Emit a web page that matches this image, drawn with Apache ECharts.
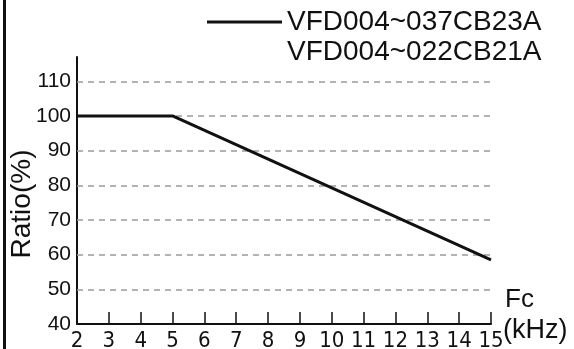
<!DOCTYPE html>
<html>
<head>
<meta charset="utf-8">
<script src="https://cdn.jsdelivr.net/npm/echarts@6/dist/echarts.min.js"></script>
<style>
  html, body { margin: 0; padding: 0; background: #fff; }
  #box { width: 574px; height: 349px; }
</style>
</head>
<body>
<div id="box"></div>
<script>
  // derating curve: carrier frequency (kHz) vs output ratio (%)
  const fcValues = [2, 5, 15];
  const ratioValues = [100, 100, 58.5];
  const gridValues = [50, 60, 70, 80, 90, 100, 110];
  const seriesNames = ['VFD004~037CB23A', 'VFD004~022CB21A'];

  const chart = echarts.init(document.getElementById('box'));

  const mainFont = '"Liberation Sans", Arial, sans-serif';
  const narrowFont = '"Liberation Sans Narrow", "DejaVu Sans Condensed", "Liberation Sans", sans-serif';

  chart.setOption({
    animation: false,
    grid: { left: 77, right: 83, top: 57, bottom: 25, outerBoundsMode: 'none', containLabel: false },
    legend: {
      data: [seriesNames[0]],
      left: 207,
      top: 8,
      padding: 0,
      icon: 'rect',
      itemWidth: 75,
      itemHeight: 3,
      textStyle: { fontFamily: mainFont, fontSize: 28, color: '#111', padding: [0, 0, 0, 0] },
    },
    xAxis: {
      type: 'value',
      min: 2,
      max: 15,
      interval: 1,
      axisLine: { lineStyle: { color: '#111', width: 2 } },
      axisTick: { show: true, inside: true, length: 12, lineStyle: { color: '#111', width: 1.5 } },
      axisLabel: { fontFamily: narrowFont, fontSize: 22, color: '#111', margin: 6 },
      splitLine: { show: false },
    },
    yAxis: {
      type: 'value',
      min: 40,
      max: 117,
      interval: 10,
      axisLine: { show: true, lineStyle: { color: '#111', width: 2 } },
      axisTick: { show: false },
      axisLabel: { fontFamily: mainFont, fontSize: 21, color: '#111', margin: 6, showMaxLabel: false },
      splitLine: { show: false },
    },
    series: [
      {
        name: seriesNames[0],
        type: 'line',
        data: fcValues.map((v, i) => [v, ratioValues[i]]),
        symbol: 'none',
        lineStyle: { color: '#111', width: 3 },
        itemStyle: { color: '#111' },
        z: 3,
        markLine: {
          silent: true,
          symbol: 'none',
          label: { show: false },
          lineStyle: { color: '#9a9a9a', width: 1.5, type: [6, 5] },
          data: gridValues.map((v) => ({ yAxis: v })),
          z: 1,
        },
      },
    ],
    graphic: [
      { type: 'rect', left: 3, top: 0, shape: { width: 3, height: 349 }, style: { fill: '#111' } },
      {
        type: 'text', x: 287, y: 52,
        style: { text: seriesNames[1], fontFamily: mainFont, fontSize: 28, fill: '#111', verticalAlign: 'middle' },
      },
      {
        type: 'text', x: 22, y: 204, rotation: Math.PI / 2,
        style: { text: 'Ratio(%)', fontFamily: mainFont, fontSize: 28, fill: '#111', align: 'center', verticalAlign: 'middle' },
      },
      {
        type: 'text', x: 505, y: 300,
        style: { text: 'Fc', fontFamily: mainFont, fontSize: 26, fill: '#111', verticalAlign: 'middle' },
      },
      {
        type: 'text', x: 503, y: 331,
        style: { text: '(kHz)', fontFamily: mainFont, fontSize: 27, fill: '#111', verticalAlign: 'middle' },
      },
    ],
  });
</script>
</body>
</html>
